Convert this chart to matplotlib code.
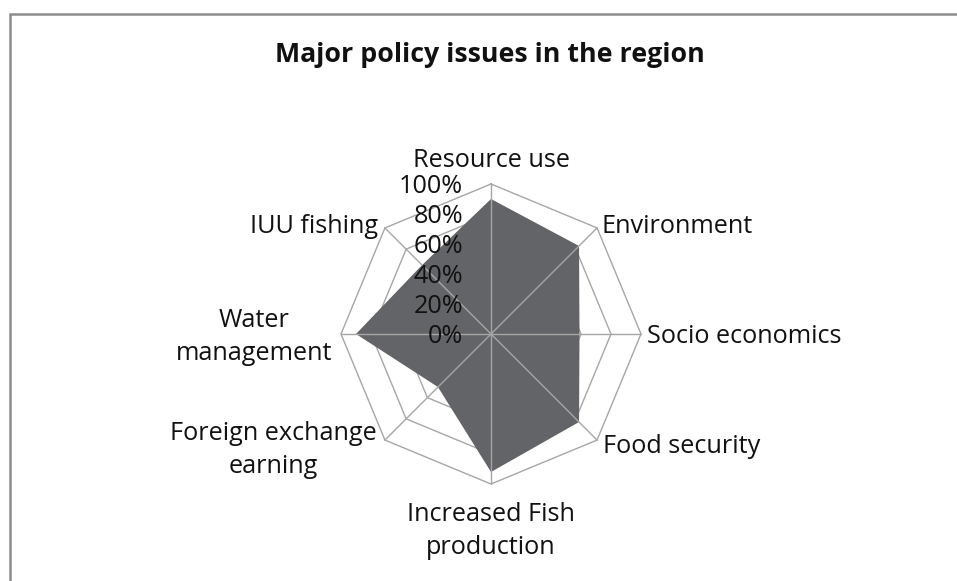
import numpy as np
import matplotlib.pyplot as plt
from matplotlib.patches import Rectangle

# Data
categories = ['Resource use', 'Environment', 'Socio economics', 'Food security',
              'Increased Fish\nproduction', 'Foreign exchange\nearning',
              'Water\nmanagement', 'IUU fishing']
values = [0.90, 0.83, 0.59, 0.83, 0.92, 0.50, 0.90, 0.65]
tick_levels = [0.0, 0.2, 0.4, 0.6, 0.8, 1.0]
tick_labels = ['0%', '20%', '40%', '60%', '80%', '100%']
title = 'Major policy issues in the region'

plt.rcParams['font.family'] = ['Open Sans', 'DejaVu Sans']

W, H = 957, 581
fig = plt.figure(figsize=(W / 100, H / 100), dpi=100)
ax = fig.add_axes([0, 0, 1, 1])

# one data unit = outer ring radius (150 px), centre at (491, 334) from top-left
scale = 150.0
cx, cy = 491, H - 334
ax.set_xlim(-cx / scale, (W - cx) / scale)
ax.set_ylim(-cy / scale, (H - cy) / scale)
ax.axis('off')

n = len(categories)
ang = np.arange(n) * 2 * np.pi / n
ux, uy = np.sin(ang), np.cos(ang)
ux_c, uy_c = np.append(ux, ux[0]), np.append(uy, uy[0])

grid_col = '#a6a6a6'
for lev in tick_levels[1:]:
    ax.plot(ux_c * lev, uy_c * lev, color=grid_col, lw=1.0, zorder=1)

vals = np.array(values)
ax.fill(ux * vals, uy * vals, color='#636467', lw=0, zorder=2)

for x, y in zip(ux, uy):
    ax.plot([0, x], [0, y], color=grid_col, lw=1.0, zorder=3)

txt_col = '#111111'
fs = 18.2

# axis value labels, right-aligned next to the vertical spoke
for lev, lab in zip(tick_levels, tick_labels):
    ax.text(-0.187, lev - 9 / scale, lab, ha='right', va='baseline',
            fontsize=fs, color=txt_col, zorder=4)

# category labels (pixel positions from the reference)
def px(x, y):
    return (x - cx) / scale, ((H - y) - cy) / scale

lab_pos = [
    (491, 167, 'center', 'baseline'),
    (602, 233, 'left', 'baseline'),
    (647, 343, 'left', 'baseline'),
    (603, 453, 'left', 'baseline'),
    (491, 531, 'center', 'center'),
    (377, 450, 'right', 'center'),
    (332, 337, 'right', 'center'),
    (378, 233, 'right', 'baseline'),
]
for lab, (x, y, ha, va) in zip(categories, lab_pos):
    tx, ty = px(x, y)
    ax.text(tx, ty, lab, ha=ha, va=va, multialignment='center',
            fontsize=fs, color=txt_col, linespacing=1.45)

fig.text(490 / W, 1 - 62 / H, title, ha='center', va='baseline',
         fontsize=19.3, fontweight='bold', color=txt_col)

# chart frame (only top and left edges fall inside the image)
fig.patches.append(Rectangle((10 / W, -0.2), 1.2, 1.2 - 14 / H,
                             transform=fig.transFigure, fill=False,
                             edgecolor='#8c8c8c', lw=1.8))

fig.savefig('out.png', dpi=100)
